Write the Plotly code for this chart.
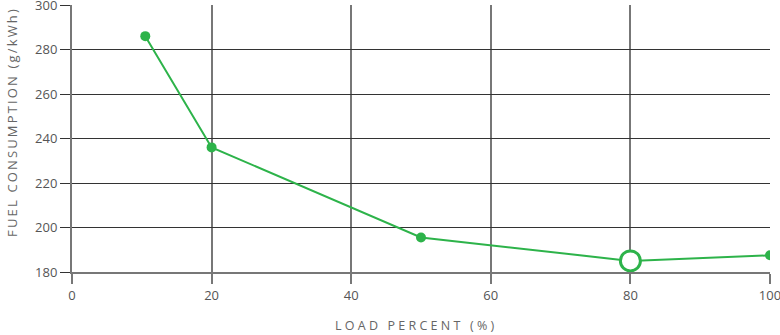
import plotly.graph_objects as go

load_percent = [10.5, 20, 50, 80, 100]
fuel_consumption = [286, 236, 195.5, 185, 187.5]
rated_index = 3  # highlighted point (open circle)
x_ticks = [0, 20, 40, 60, 80, 100]
y_ticks = [180, 200, 220, 240, 260, 280, 300]
x_title = "LOAD PERCENT (%)"
y_title = "FUEL CONSUMPTION (g/kWh)"

GREEN = "#2db34a"

def spaced(s, letter_gap, word_gap):
    words = s.split(" ")
    return word_gap.join(letter_gap.join(list(w)) for w in words)

filled_x = [x for i, x in enumerate(load_percent) if i != rated_index]
filled_y = [y for i, y in enumerate(fuel_consumption) if i != rated_index]

fig = go.Figure()
fig.add_trace(go.Scatter(
    x=load_percent, y=fuel_consumption, mode="lines",
    line=dict(color=GREEN, width=2), showlegend=False, hoverinfo="skip",
))
fig.add_trace(go.Scatter(
    x=filled_x, y=filled_y, mode="markers",
    marker=dict(size=10, color=GREEN, opacity=1, line=dict(width=0)),
    showlegend=False,
))
fig.add_trace(go.Scatter(
    x=[load_percent[rated_index]], y=[fuel_consumption[rated_index]], mode="markers",
    marker=dict(size=20, color="white", opacity=1, symbol="circle",
                line=dict(color=GREEN, width=3)),
    showlegend=False,
))

font_family = "Open Sans, Noto Sans, sans-serif"
fig.update_layout(
    width=780, height=335,
    margin=dict(l=72, r=10, t=5, b=63),
    paper_bgcolor="white", plot_bgcolor="white",
    font=dict(family=font_family, color="#555555", size=13),
    xaxis=dict(
        range=[0, 100], tickvals=x_ticks, ticktext=[str(v) for v in x_ticks],
        showgrid=True, gridcolor="#777777", gridwidth=1.5,
        showline=True, linecolor="#777777", linewidth=2,
        ticks="outside", ticklen=10, tickcolor="#777777", tickwidth=1.5,
        zeroline=False, automargin=False, ticklabeloverflow="allow",
        tickfont=dict(size=13, color="#555555"),
    ),
    yaxis=dict(
        range=[180, 300], tickvals=y_ticks, ticktext=[str(v) for v in y_ticks],
        showgrid=True, gridcolor="#333333", gridwidth=1.2,
        showline=True, linecolor="#777777", linewidth=2,
        ticks="outside", ticklen=10, tickcolor="#333333", tickwidth=1.2,
        zeroline=False, automargin=False, ticklabeloverflow="allow",
        tickfont=dict(size=13, color="#555555"),
    ),
    annotations=[
        dict(text=spaced(x_title, " ", " \u2005 "), xref="paper", yref="paper",
             x=0.49, y=-0.202, xanchor="center", yanchor="middle", showarrow=False,
             font=dict(size=12.5, color="#666666")),
        dict(text=spaced(y_title, "\u2009", "\u2009 \u2009"), xref="paper", yref="paper",
             x=-0.086, y=0.558, xanchor="center", yanchor="middle", showarrow=False,
             textangle=-90, font=dict(size=13, color="#666666")),
    ],
)

fig.write_html("out.html", config={"displayModeBar": False},
               post_script="document.body.style.margin='0';document.body.style.overflow='hidden';")
